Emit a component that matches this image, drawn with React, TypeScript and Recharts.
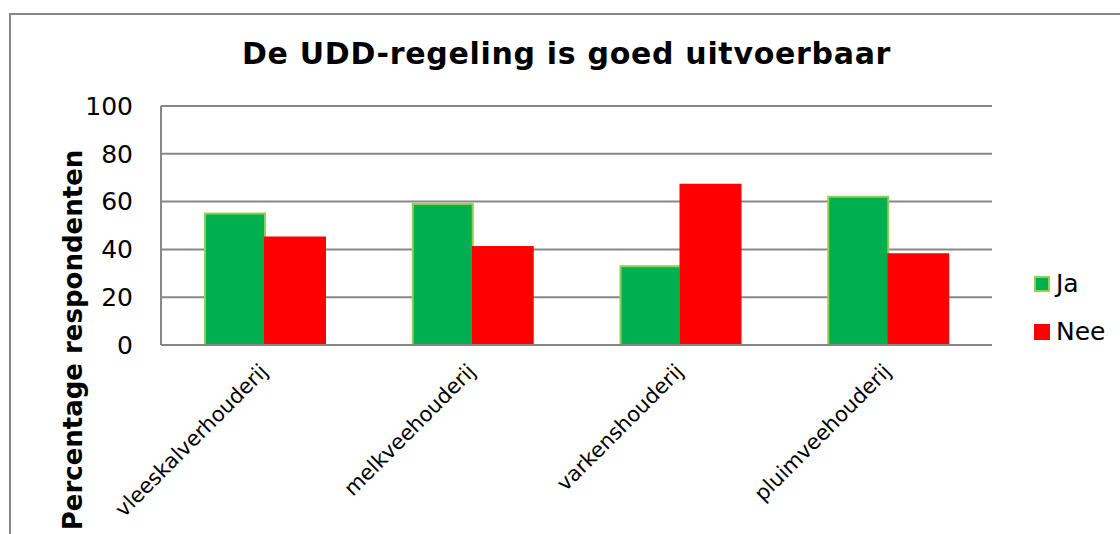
import { Bar, BarChart, CartesianGrid, XAxis, YAxis } from "recharts"

const categories = ["vleeskalverhouderij", "melkveehouderij", "varkenshouderij", "pluimveehouderij"]
const ja = [55, 59, 33, 62]
const nee = [45, 41, 67, 38]
const yTicks = [0, 20, 40, 60, 80, 100]

const series = [
  { key: "ja", name: "Ja", fill: "#00B050", stroke: "#92D050" },
  { key: "nee", name: "Nee", fill: "#FF0000", stroke: "#FF0000" },
]

const data = categories.map((name, i) => ({ name, ja: ja[i], nee: nee[i] }))

const font = "'DejaVu Sans', Verdana, sans-serif"
const gray = "#878787"

function XTick(props: any) {
  const { x, y, payload } = props
  return (
    <text
      x={x}
      y={y}
      transform={`rotate(-45, ${x}, ${y})`}
      textAnchor="end"
      dx={-11}
      dy={17}
      fontSize={21}
      fontFamily={font}
      fill="#000"
    >
      {payload.value}
    </text>
  )
}

export default function App() {
  return (
    <div style={{ position: "absolute", left: 0, top: 0, width: 1120, height: 534, background: "#fff", fontFamily: font, overflow: "hidden" }}>
      <div style={{ position: "absolute", left: 9, top: 13, width: 1200, height: 600, border: `2px solid ${gray}` }} />
      <div style={{ position: "absolute", left: 0, top: 36, width: 1133, textAlign: "center", fontSize: 30, letterSpacing: 0.7, fontWeight: "bold", color: "#000" }}>
        De UDD-regeling is goed uitvoerbaar
      </div>
      <div
        style={{
          position: "absolute",
          left: 73,
          top: 340,
          transform: "translate(-50%, -50%) rotate(-90deg)",
          whiteSpace: "nowrap",
          fontSize: 26,
          fontWeight: "bold",
          color: "#000",
        }}
      >
        Percentage respondenten
      </div>
      <BarChart
        width={1120}
        height={534}
        data={data}
        margin={{ top: 106, right: 128, bottom: 0, left: 0 }}
        barGap={0}
        barSize={60}
        style={{ position: "absolute", left: 0, top: 0 }}
      >
        <CartesianGrid vertical={false} stroke={gray} strokeWidth={2} />
        <XAxis
          dataKey="name"
          height={189}
          interval={0}
          tickLine={false}
          axisLine={{ stroke: gray, strokeWidth: 2 }}
          tick={<XTick />}
        />
        <YAxis
          width={161}
          domain={[0, 100]}
          ticks={yTicks}
          tickLine={false}
          tickMargin={22}
          axisLine={{ stroke: gray, strokeWidth: 2 }}
          tick={{ fontSize: 25, fill: "#000", fontFamily: font }}
        />
        {series.map((s) => (
          <Bar key={s.key} dataKey={s.key} name={s.name} fill={s.fill} stroke={s.stroke} strokeWidth={2} isAnimationActive={false} />
        ))}
      </BarChart>
      {series.map((s, i) => (
        <div key={s.key} style={{ position: "absolute", left: 1034, top: 269 + i * 48, display: "flex", alignItems: "center", fontSize: 25, color: "#000" }}>
          <span style={{ display: "inline-block", width: 12, height: 12, background: s.fill, border: `2px solid ${s.stroke}`, marginRight: 6 }} />
          {s.name}
        </div>
      ))}
    </div>
  )
}
